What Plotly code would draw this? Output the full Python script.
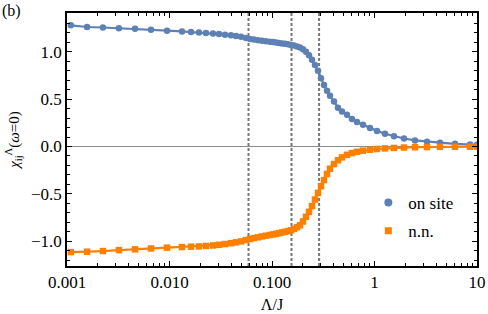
import plotly.graph_objects as go

# Λ/J grid
lam = [0.00109, 0.00157, 0.00224, 0.00321, 0.00461, 0.00660, 0.00946, 0.01325, 0.01622, 0.01941,
       0.02270, 0.02655, 0.03040, 0.03477, 0.03979, 0.04455, 0.04984, 0.05575, 0.06097, 0.06668,
       0.07292, 0.07976, 0.08724, 0.09541, 0.1022, 0.1093, 0.1170, 0.1252, 0.1339, 0.1433,
       0.1533, 0.1640, 0.1754, 0.1875, 0.2006, 0.2146, 0.2296, 0.2456, 0.2627, 0.2810,
       0.3006, 0.3216, 0.3440, 0.3680, 0.4025, 0.4402, 0.4815, 0.5391, 0.6031, 0.6746,
       0.7723, 0.9036, 1.057, 1.265, 1.549, 1.939, 2.484, 3.252, 4.353, 6.096, 8.551, 10.0]

on_site = [1.280, 1.262, 1.257, 1.250, 1.243, 1.233, 1.223, 1.215, 1.209, 1.204,
           1.199, 1.193, 1.187, 1.181, 1.174, 1.166, 1.158, 1.146, 1.136, 1.129,
           1.123, 1.117, 1.112, 1.107, 1.103, 1.099, 1.094, 1.089, 1.084, 1.079,
           1.073, 1.066, 1.057, 1.045, 1.027, 1.002, 0.965, 0.915, 0.860, 0.800,
           0.720, 0.650, 0.590, 0.535, 0.475, 0.410, 0.370, 0.335, 0.290, 0.258,
           0.230, 0.195, 0.165, 0.135, 0.108, 0.085, 0.064, 0.050, 0.040, 0.028, 0.021, 0.018]

nn = [-1.115, -1.111, -1.104, -1.094, -1.086, -1.077, -1.068, -1.062, -1.058, -1.055,
      -1.050, -1.045, -1.038, -1.030, -1.021, -1.012, -1.002, -0.988, -0.977, -0.968,
      -0.959, -0.950, -0.942, -0.935, -0.929, -0.922, -0.915, -0.908, -0.901, -0.894,
      -0.885, -0.870, -0.852, -0.832, -0.792, -0.742, -0.690, -0.630, -0.560, -0.490,
      -0.420, -0.355, -0.290, -0.235, -0.185, -0.145, -0.115, -0.088, -0.070, -0.056,
      -0.044, -0.034, -0.026, -0.020, -0.015, -0.011, -0.008, -0.006, -0.004, -0.003, -0.002, -0.002]

vlines = [0.059, 0.155, 0.288]

x_tickvals = [0.001, 0.01, 0.1, 1, 10]
x_ticktext = ["0.001", "0.010", "0.100", "1", "10"]
y_tickvals = [-1.0, -0.5, 0.0, 0.5, 1.0]
y_ticktext = ["\u22121.0", "\u22120.5", "0.0", "0.5", "1.0"]
y_minor = [-1.2, -1.1, -0.9, -0.8, -0.7, -0.6, -0.4, -0.3, -0.2, -0.1,
           0.1, 0.2, 0.3, 0.4, 0.6, 0.7, 0.8, 0.9, 1.1, 1.2, 1.3, 1.4]

blue = "#5E81B5"
orange = "#FF8000"
font = "Liberation Serif"

fig = go.Figure()
fig.add_trace(go.Scatter(x=lam, y=on_site, mode="lines+markers", showlegend=False,
                         line=dict(color=blue, width=2.2),
                         marker=dict(symbol="circle", size=6.5, color=blue)))
fig.add_trace(go.Scatter(x=lam, y=nn, mode="lines+markers", showlegend=False,
                         line=dict(color=orange, width=2.2),
                         marker=dict(symbol="square", size=6.5, color=orange)))
# legend entries (markers only, as in the reference)
fig.add_trace(go.Scatter(x=[None], y=[None], mode="markers", name="on site", legendgroup="a",
                         marker=dict(symbol="circle", size=8, color=blue)))
fig.add_trace(go.Scatter(x=[None], y=[None], mode="markers", name="n.n.", legendgroup="b",
                         marker=dict(symbol="square", size=7, color=orange)))

for v in vlines:
    fig.add_shape(type="line", xref="x", yref="paper", x0=v, x1=v, y0=0, y1=1,
                  line=dict(color="#777777", width=2, dash="3px,2px"), layer="below")
fig.add_shape(type="line", xref="paper", yref="y", x0=0, x1=1, y0=0, y1=0,
              line=dict(color="#8c8c8c", width=1), layer="below")

axis_common = dict(showgrid=False, zeroline=False, showline=True, linecolor="black",
                   linewidth=1.5, mirror="allticks", ticks="inside", tickcolor="black",
                   tickwidth=1, ticklen=5, automargin=False)

fig.update_xaxes(type="log", range=[-3, 1], tickvals=x_tickvals, ticktext=x_ticktext,
                 tickfont=dict(size=17, family=font),
                 minor=dict(ticks="inside", ticklen=3, tickcolor="black", tickwidth=1,
                            dtick="D1"),
                 title=dict(text="\u039b/J", standoff=8, font=dict(size=16, family=font)),
                 **axis_common)
fig.update_yaxes(range=[-1.262, 1.41], tickvals=y_tickvals, ticktext=y_ticktext,
                 tickfont=dict(size=17, family=font),
                 minor=dict(ticks="inside", ticklen=3, tickcolor="black", tickwidth=1,
                            tickvals=y_minor),
                 title=dict(text="<i>\u03c7</i><sub>ij</sub><sup>\u039b</sup>(<i>\u03c9</i>=0)",
                            standoff=8, font=dict(size=15, family=font)),
                 **axis_common)

fig.update_layout(
    width=488, height=314,
    margin=dict(l=67, r=11, t=13, b=48),
    plot_bgcolor="white", paper_bgcolor="white",
    font=dict(family=font, size=16, color="black"),
    showlegend=True,
    legend=dict(x=0.735, y=0.32, xanchor="left", yanchor="top", bgcolor="rgba(0,0,0,0)",
                tracegroupgap=3, itemwidth=30, font=dict(size=17, family=font)),
    annotations=[dict(text="(b)", xref="paper", yref="paper", x=0, y=1, xanchor="left",
                      yanchor="top", showarrow=False, font=dict(size=16, family=font),
                      xshift=-67, yshift=13)],
)

fig.write_html("out.html", config={"displayModeBar": False},
               post_script="document.body.style.margin='0';document.body.style.overflow='hidden';")
